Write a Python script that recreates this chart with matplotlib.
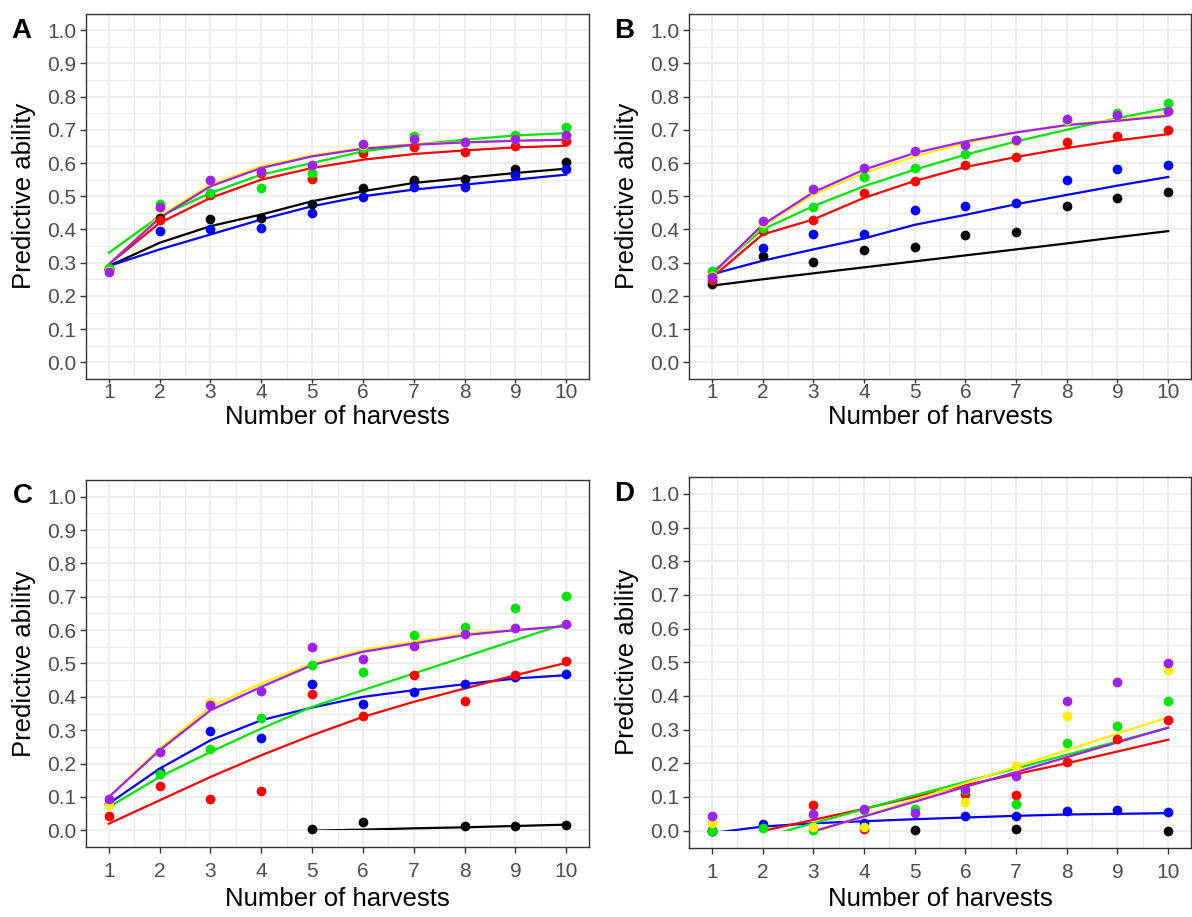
import matplotlib
matplotlib.use('Agg')
import matplotlib.pyplot as plt
import numpy as np
from matplotlib.patches import Rectangle
from matplotlib.ticker import MultipleLocator

plt.rcParams['font.family'] = ['Liberation Sans', 'DejaVu Sans']

nan = np.nan
harvests = [1, 2, 3, 4, 5, 6, 7, 8, 9, 10]

# drawing order (bottom -> top) and colours
series = ['black', 'blue', 'red', 'green', 'yellow', 'purple']
colors = {'black': '#000000', 'blue': '#0000FF', 'red': '#FF0000',
          'green': '#00E600', 'yellow': '#FFEE00', 'purple': '#A020F0'}

### Panel A
pts_A = {
    'black':  [0.28, 0.435, 0.432, 0.435, 0.477, 0.525, 0.55, 0.553, 0.583, 0.602],
    'blue':   [0.28, 0.395, 0.40, 0.403, 0.45, 0.498, 0.528, 0.528, 0.565, 0.583],
    'red':    [0.28, 0.43, 0.505, 0.57, 0.553, 0.63, 0.648, 0.633, 0.652, 0.665],
    'green':  [0.285, 0.477, 0.51, 0.525, 0.57, 0.645, 0.68, 0.663, 0.685, 0.707],
    'yellow': [0.275, 0.465, 0.548, 0.575, 0.593, 0.655, 0.672, 0.662, 0.672, 0.684],
    'purple': [0.273, 0.467, 0.55, 0.577, 0.595, 0.657, 0.673, 0.663, 0.673, 0.685],
}
fit_A = {
    'black':  [0.29, 0.36, 0.41, 0.445, 0.485, 0.515, 0.54, 0.555, 0.57, 0.583],
    'blue':   [0.29, 0.34, 0.385, 0.43, 0.47, 0.50, 0.52, 0.535, 0.55, 0.565],
    'red':    [0.295, 0.42, 0.495, 0.55, 0.585, 0.61, 0.627, 0.638, 0.647, 0.652],
    'green':  [0.33, 0.44, 0.51, 0.565, 0.60, 0.635, 0.655, 0.67, 0.683, 0.69],
    'yellow': [0.295, 0.44, 0.535, 0.59, 0.623, 0.645, 0.657, 0.663, 0.667, 0.67],
    'purple': [0.295, 0.435, 0.53, 0.585, 0.62, 0.643, 0.655, 0.662, 0.667, 0.67],
}

### Panel B
pts_B = {
    'black':  [0.237, 0.32, 0.303, 0.338, 0.347, 0.383, 0.392, 0.471, 0.496, 0.514],
    'blue':   [0.26, 0.345, 0.385, 0.385, 0.459, 0.471, 0.479, 0.55, 0.581, 0.593],
    'red':    [0.247, 0.395, 0.43, 0.511, 0.546, 0.593, 0.618, 0.663, 0.68, 0.70],
    'green':  [0.275, 0.403, 0.468, 0.559, 0.586, 0.628, 0.668, 0.725, 0.752, 0.78],
    'yellow': [0.26, 0.42, 0.52, 0.585, 0.633, 0.653, 0.667, 0.73, 0.744, 0.756],
    'purple': [0.256, 0.425, 0.522, 0.586, 0.635, 0.655, 0.668, 0.732, 0.744, 0.757],
}
fit_B = {
    'black':  [0.231, 0.25, 0.268, 0.286, 0.304, 0.322, 0.34, 0.358, 0.377, 0.395],
    'blue':   [0.265, 0.306, 0.34, 0.373, 0.414, 0.444, 0.476, 0.504, 0.532, 0.558],
    'red':    [0.255, 0.385, 0.43, 0.495, 0.546, 0.588, 0.618, 0.645, 0.668, 0.687],
    'green':  [0.27, 0.40, 0.47, 0.53, 0.58, 0.625, 0.665, 0.70, 0.735, 0.765],
    'yellow': [0.265, 0.41, 0.505, 0.57, 0.62, 0.66, 0.692, 0.715, 0.73, 0.745],
    'purple': [0.265, 0.414, 0.512, 0.58, 0.63, 0.665, 0.692, 0.714, 0.727, 0.742],
}

### Panel C
pts_C = {
    'black':  [nan, nan, nan, nan, 0.003, 0.025, nan, 0.013, 0.013, 0.015],
    'blue':   [0.08, 0.175, 0.298, 0.278, 0.438, 0.38, 0.415, 0.44, 0.46, 0.47],
    'red':    [0.042, 0.132, 0.093, 0.118, 0.408, 0.343, 0.467, 0.389, 0.467, 0.507],
    'green':  [0.08, 0.17, 0.243, 0.338, 0.497, 0.474, 0.585, 0.61, 0.665, 0.703],
    'yellow': [0.075, 0.235, 0.385, 0.418, 0.55, 0.512, 0.553, 0.588, 0.607, 0.617],
    'purple': [0.095, 0.235, 0.377, 0.418, 0.55, 0.512, 0.553, 0.588, 0.607, 0.617],
}
fit_C = {
    'black':  [nan, nan, nan, nan, -0.001, 0.002, 0.006, 0.009, 0.013, 0.017],
    'blue':   [0.08, 0.185, 0.27, 0.33, 0.368, 0.40, 0.42, 0.438, 0.455, 0.465],
    'red':    [0.02, 0.09, 0.16, 0.225, 0.285, 0.34, 0.385, 0.425, 0.465, 0.502],
    'green':  [0.07, 0.16, 0.235, 0.305, 0.37, 0.42, 0.47, 0.52, 0.57, 0.62],
    'yellow': [0.10, 0.245, 0.37, 0.44, 0.50, 0.54, 0.565, 0.59, 0.60, 0.612],
    'purple': [0.10, 0.24, 0.36, 0.43, 0.495, 0.535, 0.56, 0.585, 0.60, 0.612],
}

### Panel D
pts_D = {
    'black':  [0.0, nan, nan, nan, 0.002, nan, 0.005, nan, nan, 0.0],
    'blue':   [0.0, 0.019, nan, 0.022, nan, 0.044, 0.044, 0.058, 0.061, 0.054],
    'red':    [0.002, nan, 0.076, 0.004, nan, 0.109, 0.106, 0.205, 0.271, 0.33],
    'green':  [0.0, 0.007, 0.002, 0.06, 0.064, 0.12, 0.079, 0.26, 0.311, 0.384],
    'yellow': [0.022, nan, 0.012, 0.012, nan, 0.086, 0.193, 0.341, 0.44, 0.476],
    'purple': [0.044, nan, 0.05, 0.064, 0.052, 0.123, 0.163, 0.384, 0.442, 0.498],
}
fit_D = {
    'black':  None,
    'blue':   [-0.007, 0.012, 0.022, 0.028, 0.034, 0.039, 0.044, 0.048, 0.05, 0.052],
    'red':    [-0.035, -0.001, 0.032, 0.065, 0.10, 0.135, 0.168, 0.20, 0.235, 0.27],
    'green':  [-0.062, -0.02, 0.022, 0.064, 0.105, 0.145, 0.185, 0.225, 0.265, 0.305],
    'yellow': [-0.104, -0.055, -0.006, 0.043, 0.092, 0.141, 0.19, 0.239, 0.288, 0.337],
    'purple': [-0.09, -0.045, -0.002, 0.042, 0.086, 0.13, 0.174, 0.218, 0.262, 0.306],
}

W, H = 1192, 917
fig = plt.figure(figsize=(W / 100, H / 100), dpi=100)


def panel(box, pts, fit, letter, letter_xy, ylab_x, xlab_y, xpad, xlen):
  l, t, r, b = box
  ax = fig.add_axes([l / W, 1 - b / H, (r - l) / W, (b - t) / H])
  ax.set_xlim(0.55, 10.45)
  ax.set_ylim(-0.05, 1.05)
  ax.xaxis.set_major_locator(MultipleLocator(1))
  ax.xaxis.set_minor_locator(MultipleLocator(0.5))
  ax.yaxis.set_major_locator(MultipleLocator(0.1))
  ax.yaxis.set_minor_locator(MultipleLocator(0.05))
  ax.set_yticklabels(['%.1f' % v for v in ax.get_yticks()])
  ax.grid(which='major', color='#EBEBEB', lw=1.2)
  ax.grid(which='minor', color='#EBEBEB', lw=0.8)
  ax.set_axisbelow(True)
  ax.tick_params(which='major', length=4, width=1, color='#333333',
                 labelcolor='#4D4D4D', labelsize=15, pad=3)
  ax.tick_params(axis='x', which='major', pad=xpad, length=xlen)
  ax.tick_params(which='minor', length=0)
  for s in ax.spines.values():
    s.set_color('#333333')
    s.set_linewidth(1)

  clip = Rectangle((0.55, 0), 9.9, 1.05, transform=ax.transData)
  for name in series:
    if fit[name] is not None:
      line, = ax.plot(harvests, fit[name], color=colors[name], lw=1.6, zorder=2)
      line.set_clip_path(clip)
  for name in series:
    ax.plot(harvests, pts[name], 'o', color=colors[name], ms=7, mec='none', zorder=3)

  fig.text(letter_xy[0] / W, 1 - letter_xy[1] / H, letter, fontsize=20,
           fontweight='bold', ha='left', va='center')
  fig.text(ylab_x / W, 1 - (t + b) / 2 / H, 'Predictive ability', rotation=90,
           fontsize=18.5, ha='center', va='center')
  fig.text((l + r) / 2 / W, 1 - xlab_y / H, 'Number of harvests',
           fontsize=18.5, ha='center', va='center')
  return ax


panel((86, 13.5, 589, 379), pts_A, fit_A, 'A', (11, 31), 24, 417, 0, 3)
panel((689, 13.5, 1191, 379), pts_B, fit_B, 'B', (614, 31), 627, 417, 0, 3)
panel((86, 480, 589, 847), pts_C, fit_C, 'C', (13, 496), 24, 899, 7, 4)
panel((689, 477, 1191, 847.5), pts_D, fit_D, 'D', (614, 494), 627, 899, 7, 4)

fig.savefig('out.png', dpi=100)
